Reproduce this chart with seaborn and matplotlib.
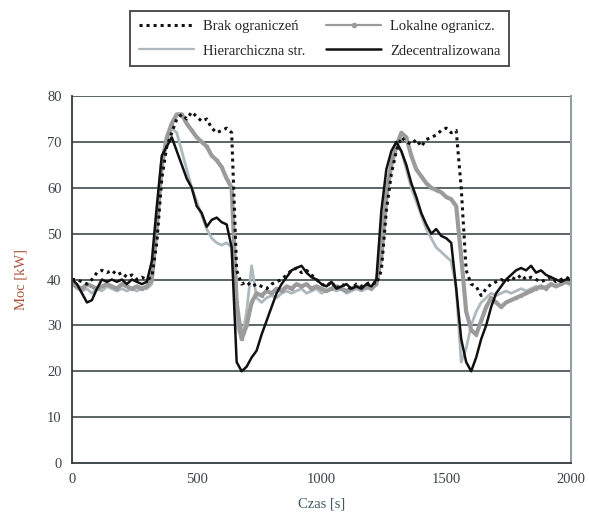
import numpy as np
import pandas as pd
import seaborn as sns
import matplotlib.pyplot as plt

# time axis [s], step 20 s
czas = list(range(0, 2001, 20))

brak = [40, 40, 39.5, 39, 40, 41.5, 42, 41.5, 42, 41, 41.5, 40.5, 41, 40, 40.5, 40, 40.5,
        48, 62, 69, 72, 75, 76, 75, 76.5, 75.5, 74.5, 75, 73, 72, 72.5, 73, 72,
        42, 39, 39.5, 38.5, 39, 38.5, 38, 39, 39.5, 40, 41, 42, 42.5, 41.5, 42, 41, 40,
        39, 38.5, 39.5, 38, 39, 38.5, 38, 39, 38.5, 39, 39.5, 39,
        42, 55, 63, 68, 71, 70, 69.5, 70.5, 69, 70.5, 71, 71.5, 72.5, 73, 72, 72.5,
        60, 42, 39, 38.5, 36.5, 38, 39, 39.5, 40, 39.5, 40.5, 40, 41, 40, 40.5, 40,
        39.5, 40, 40.5, 39.5, 40, 40.5, 40]

lokalne = [39, 38.5, 38, 39, 38.5, 38, 38.5, 39, 38.5, 38, 39, 38.5, 38, 38.5, 38, 38.5, 40,
           52, 65, 71, 74, 76, 76, 74, 72.5, 71, 70, 69, 67, 66, 64.5, 62, 60,
           35, 27, 30, 35, 37, 36.5, 37.5, 37, 38, 37.5, 38.5, 38, 39, 38.5, 39, 38, 38.5,
           38, 37.5, 38, 38.5, 38, 37.5, 38, 38.5, 38, 38.5, 38, 39,
           45, 58, 65, 69, 72, 71, 67, 64, 62.5, 61, 60, 59.5, 59, 58, 57.5, 56,
           45, 33, 29, 28, 31, 34, 36, 35, 34, 35, 35.5, 36, 36.5, 37, 37.5, 38,
           38.5, 38, 39, 38.5, 39, 39.5, 39]

hierarch = [39, 38, 37.5, 38, 37, 38, 37.5, 38.5, 38, 37.5, 38, 37.5, 38, 37.5, 38, 38, 39,
            50, 64, 70, 73, 72, 68, 64, 60, 57, 54, 51, 49, 48, 47.5, 48, 47,
            30, 27, 33, 43, 36, 35, 36, 36.5, 36, 37, 37.5, 37, 37.5, 38, 37, 37.5, 38,
            37, 37.5, 38, 37.5, 38, 37, 37.5, 38, 37.5, 38, 38.5, 39,
            50, 60, 66, 69, 68, 64, 60, 57, 54, 51, 49, 47, 46, 45, 44, 38,
            22, 25, 30, 33, 35, 36, 37, 36.5, 37, 37.5, 37, 37.5, 38, 37.5, 38, 38.5,
            38, 38.5, 39, 38.5, 39, 39.5, 39]

zdecent = [40, 39, 37, 35, 35.5, 38, 40, 39.5, 40, 39.5, 40, 39, 40, 39.5, 39, 39.5, 44,
           56, 67, 69, 71, 68, 65, 62, 60, 56, 54.5, 51.5, 53, 53.5, 52.5, 52, 47,
           22, 20, 21, 23, 24.5, 28, 31, 34, 37, 39, 40.5, 42, 42.5, 43, 41.5, 40.5, 40,
           39, 38.5, 39.5, 38, 38.5, 39, 38, 38.5, 38, 39, 38.5, 40,
           55, 64, 68, 70, 68, 65, 61, 58, 54.5, 52, 50, 51, 49.5, 49, 48, 38,
           27, 22, 20, 23, 27, 30, 34, 37, 38.5, 40, 41, 42, 42.5, 42, 43, 41.5,
           42, 41, 40.5, 40, 39.5, 40, 40]

sns.set_style("white")
plt.rcParams['font.family'] = ['Liberation Serif', 'DejaVu Serif']

fig = plt.figure(figsize=(5.89, 5.21), dpi=100)
ax = fig.add_axes([0.1222, 0.1113, 0.8472, 0.7044])

grid_col = '#2f3a3c'
for v in range(10, 81, 10):
    ax.axhline(v, color=grid_col, lw=1.1, zorder=0)

sns.lineplot(x=czas, y=hierarch, ax=ax, color='#adb9bd', lw=2.0,
             label='Hierarchiczna str.')
sns.lineplot(x=czas, y=lokalne, ax=ax, color='#9b9b9b', lw=3.0,
             marker='o', markersize=2.5, markeredgewidth=0,
             label='Lokalne ogranicz.')
sns.lineplot(x=czas, y=zdecent, ax=ax, color='#111111', lw=1.8,
             label='Zdecentralizowana')
sns.lineplot(x=czas, y=brak, ax=ax, color='#111111', lw=2.2, linestyle=(0, (1, 1.3)),
             label='Brak ograniczeń')

ax.set_xlim(0, 2000)
ax.set_ylim(0, 80)
ax.set_xticks([0, 500, 1000, 1500, 2000])
ax.set_yticks(range(0, 81, 10))
ax.tick_params(axis='both', direction='out', length=4, width=1.1, colors=grid_col,
               labelsize=10.5, labelcolor='#3a4244')

for side in ['left', 'bottom']:
    ax.spines[side].set_color(grid_col)
    ax.spines[side].set_linewidth(1.3)
ax.spines['top'].set_visible(False)
ax.spines['right'].set_color('#8fa0a6')
ax.spines['right'].set_linewidth(1.5)

ax.set_xlabel('Czas [s]', fontsize=10.5, color='#3d5a62', labelpad=8)
ax.set_ylabel('Moc [kW]', fontsize=10.5, color='#a8543a', labelpad=14)

handles, labels = ax.get_legend_handles_labels()
order = ['Brak ograniczeń', 'Hierarchiczna str.', 'Lokalne ogranicz.', 'Zdecentralizowana']
hmap = dict(zip(labels, handles))
leg = ax.legend([hmap[k] for k in order], order, ncol=2, loc='upper center',
                bbox_to_anchor=(0.543, 0.992), bbox_transform=fig.transFigure,
                frameon=True, fancybox=False, edgecolor='#222222', fontsize=10.5,
                handlelength=3.8, handletextpad=0.6, columnspacing=1.4,
                borderpad=0.6, labelspacing=0.75)
leg.get_frame().set_linewidth(1.4)
# thinner legend sample for the marker series, as in the original
for h, name in zip(leg.legend_handles, order):
    if name == 'Lokalne ogranicz.':
        h.set_linewidth(1.6)
        h.set_markersize(4)
    if name == 'Hierarchiczna str.':
        h.set_linewidth(1.6)

plt.savefig('out.png', dpi=100)
plt.close()
